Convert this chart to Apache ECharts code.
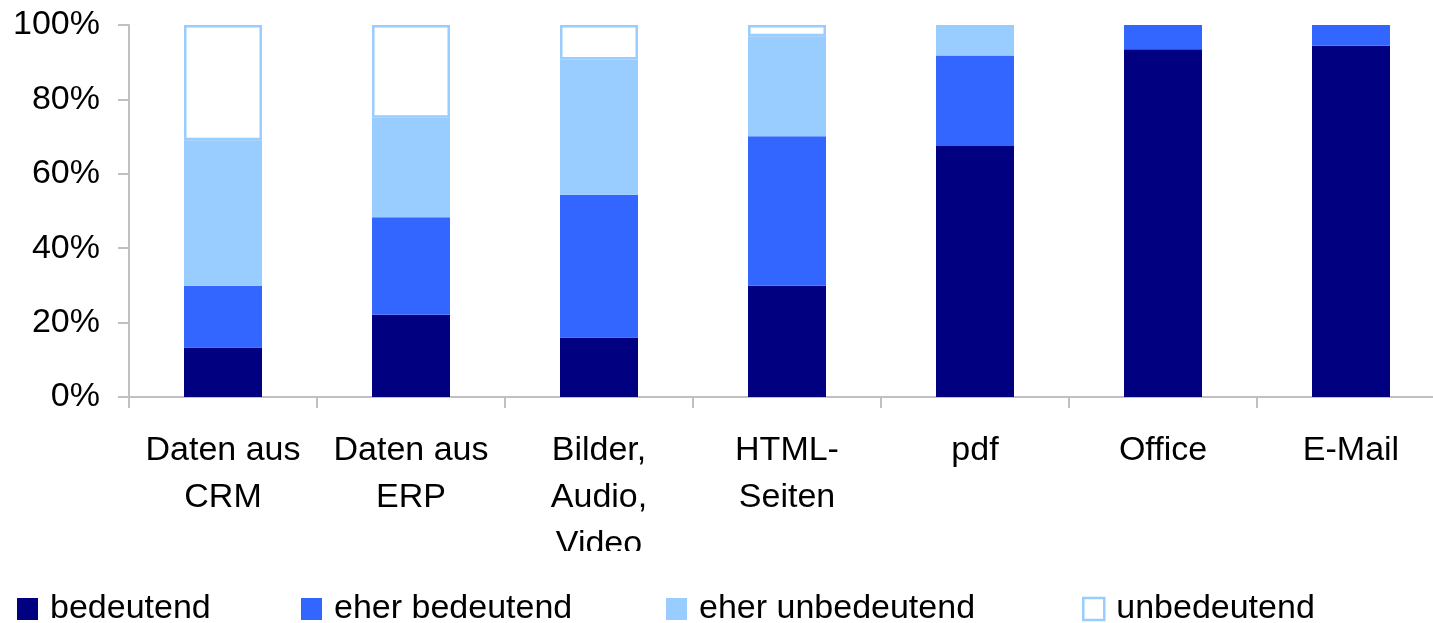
<!DOCTYPE html>
<html>
<head>
<meta charset="utf-8">
<script src="https://cdn.jsdelivr.net/npm/echarts@6/dist/echarts.min.js"></script>
<style>
html,body{margin:0;padding:0;background:#fff;}
#chart{width:1433px;height:623px;}
</style>
</head>
<body>
<div id="chart"></div>
<script>
const categories = ['Daten aus\nCRM', 'Daten aus\nERP', 'Bilder,\nAudio,\nVideo', 'HTML-\nSeiten', 'pdf', 'Office', 'E-Mail'];
const seriesNames = ['bedeutend', 'eher bedeutend', 'eher unbedeutend', 'unbedeutend'];
const bedeutend = [13.3, 22.1, 16.0, 29.9, 67.5, 93.5, 94.4];
const eherBedeutend = [16.6, 26.2, 38.4, 40.2, 24.3, 6.5, 5.6];
const eherUnbedeutend = [39.1, 26.8, 36.3, 26.9, 8.2, 0, 0];
const unbedeutend = [31.0, 24.9, 9.3, 3.0, 0, 0, 0];
const yTicks = [0, 20, 40, 60, 80, 100];

const FONT = 'Liberation Sans, Arial, sans-serif';
const colors = ['#000080', '#3366FF', '#99CCFF', '#FFFFFF'];
const values = [bedeutend, eherBedeutend, eherUnbedeutend, unbedeutend];
const legendLefts = [17, 301, 666, 1082];

const chart = echarts.init(document.getElementById('chart'), null, {renderer: 'canvas'});

const series = seriesNames.map((name, i) => ({
  name: name,
  type: 'bar',
  stack: 'total',
  barWidth: 78,
  data: values[i].map(v => (i === 3 && v === 0) ? null : v),
  itemStyle: i === 3
    ? {color: '#FFFFFF', borderColor: '#99CCFF', borderWidth: 2.5}
    : {color: colors[i]},
  emphasis: {disabled: true},
  animation: false
}));

const legends = seriesNames.map((name, i) => ({
  data: [i === 3 ? {name: name, itemStyle: {color: '#FFFFFF', borderColor: '#99CCFF', borderWidth: 2.5}} : name],
  left: legendLefts[i],
  top: 592,
  padding: 0,
  icon: 'rect',
  itemWidth: 21,
  itemHeight: 22,
  itemGap: 0,
  textStyle: {fontFamily: FONT, fontSize: 34, color: '#000', padding: [0, 0, 0, 7]},
  selectedMode: false
}));

chart.setOption({
  animation: false,
  backgroundColor: '#fff',
  color: colors,
  legend: legends,
  grid: {left: 129, width: 1316, top: 25, bottom: 226, containLabel: false, outerBoundsMode: 'none'},
  xAxis: {
    type: 'category',
    data: categories,
    axisLine: {lineStyle: {color: '#C0C0C0', width: 2}},
    axisTick: {show: true, length: 11, lineStyle: {color: '#C0C0C0', width: 2}},
    axisLabel: {
      interval: 0,
      margin: 30,
      fontFamily: FONT,
      fontSize: 34,
      lineHeight: 47,
      color: '#000'
    },
    splitLine: {show: false}
  },
  yAxis: {
    type: 'value',
    min: yTicks[0],
    max: yTicks[yTicks.length - 1],
    interval: 20,
    axisLine: {show: true, lineStyle: {color: '#C0C0C0', width: 2}},
    axisTick: {show: true, length: 11, lineStyle: {color: '#C0C0C0', width: 2}},
    axisLabel: {
      margin: 29,
      formatter: '{value}%',
      fontFamily: FONT,
      fontSize: 34,
      color: '#000'
    },
    splitLine: {show: false}
  },
  series: series,
  graphic: [{
    type: 'rect',
    z: 100,
    shape: {x: 530, y: 551, width: 160, height: 36},
    style: {fill: '#FFFFFF'}
  }]
});
</script>
</body>
</html>
